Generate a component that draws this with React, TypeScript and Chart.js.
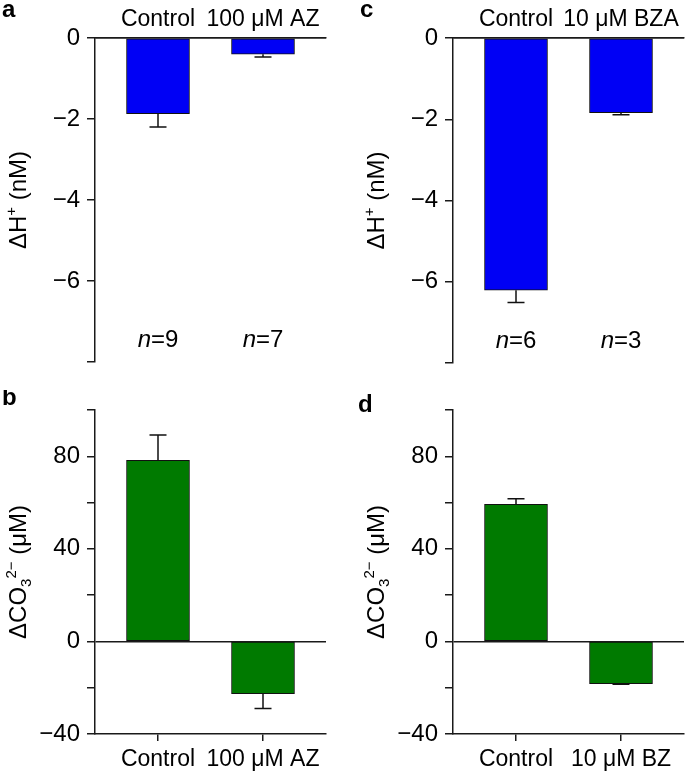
import React, { useEffect, useRef } from 'react';
import { Chart, registerables } from 'chart.js';

Chart.register(...registerables);

// ---------- data ----------
const categoriesA = ['Control', '100 μM AZ'];
const valuesA = [-1.87, -0.4];
const errorsA = [0.33, 0.07];
const nA = ['9', '7'];

const categoriesB = ['Control', '100 μM AZ'];
const valuesB = [78.2, -22.6];
const errorsB = [11.0, 6.4];

const categoriesC = ['Control', '10 μM BZA'];
const valuesC = [-6.21, -1.84];
const errorsC = [0.3, 0.05];
const nC = ['6', '3'];

const categoriesD = ['Control', '10 μM BZ'];
const valuesD = [59.2, -18.2];
const errorsD = [2.5, 0.3];

const hTickValues = [-8, -6, -4, -2, 0];
const hTickLabels = ['', '−6', '−4', '−2', '0'];
const cTickValues = [-40, -20, 0, 20, 40, 60, 80, 100];
const cTickLabels = ['−40', '', '0', '', '40', '', '80', ''];

// ---------- styles ----------
const FAMILY = '"Liberation Sans", Arial, Helvetica, sans-serif';
const AXIS = '#1a1a1a';
const BLUE = '#0000f5';
const GREEN = '#007a00';
const FS = 24;
const CAT_FS = 23;

type Part = { t: string; s: number; dy?: number };
const titleH: Part[] = [
  { t: 'ΔH', s: FS },
  { t: '+', s: 15, dy: -10 },
  { t: ' (nM)', s: FS },
];
const titleC: Part[] = [
  { t: 'ΔCO', s: FS },
  { t: '3', s: 15, dy: 5 },
  { t: '2−', s: 15, dy: -10 },
  { t: ' (μM)', s: FS },
];

type Panel = {
  letter: string;
  letterX: number;
  letterY: number;
  left: number;
  top: number;
  width: number;
  height: number;
  area: { left: number; top: number; right: number; bottom: number };
  xPos: 'top' | 'bottom';
  categories: string[];
  values: number[];
  errors: number[];
  nLabels?: string[];
  color: string;
  yMin: number;
  yMax: number;
  yTicks: number[];
  yLabels: string[];
  title: Part[];
  titleX: number;
};

const panels: Panel[] = [
  {
    letter: 'a', letterX: 2, letterY: 17,
    left: 0, top: 0, width: 342, height: 390,
    area: { left: 95, top: 38, right: 326, bottom: 362 },
    xPos: 'top', categories: categoriesA, values: valuesA, errors: errorsA, nLabels: nA,
    color: BLUE, yMin: -8, yMax: 0, yTicks: hTickValues, yLabels: hTickLabels,
    title: titleH, titleX: 17.5,
  },
  {
    letter: 'c', letterX: 18, letterY: 17,
    left: 342, top: 0, width: 343, height: 390,
    area: { left: 111, top: 38, right: 342, bottom: 363 },
    xPos: 'top', categories: categoriesC, values: valuesC, errors: errorsC, nLabels: nC,
    color: BLUE, yMin: -8, yMax: 0, yTicks: hTickValues, yLabels: hTickLabels,
    title: titleH, titleX: 33,
  },
  {
    letter: 'b', letterX: 2, letterY: 15,
    left: 0, top: 390, width: 342, height: 384,
    area: { left: 95, top: 20, right: 326, bottom: 344 },
    xPos: 'bottom', categories: categoriesB, values: valuesB, errors: errorsB,
    color: GREEN, yMin: -40, yMax: 100, yTicks: cTickValues, yLabels: cTickLabels,
    title: titleC, titleX: 17.5,
  },
  {
    letter: 'd', letterX: 16, letterY: 22,
    left: 342, top: 390, width: 343, height: 384,
    area: { left: 111, top: 20, right: 342, bottom: 344 },
    xPos: 'bottom', categories: categoriesD, values: valuesD, errors: errorsD,
    color: GREEN, yMin: -40, yMax: 100, yTicks: cTickValues, yLabels: cTickLabels,
    title: titleC, titleX: 33,
  },
];

function drawRotatedRich(ctx: CanvasRenderingContext2D, parts: Part[], cx: number, cy: number) {
  ctx.save();
  ctx.translate(cx, cy);
  ctx.rotate(-Math.PI / 2);
  ctx.fillStyle = '#000';
  ctx.textBaseline = 'alphabetic';
  ctx.textAlign = 'left';
  let total = 0;
  for (const p of parts) {
    ctx.font = `${p.s}px ${FAMILY}`;
    total += ctx.measureText(p.t).width;
  }
  let x = -total / 2;
  for (const p of parts) {
    ctx.font = `${p.s}px ${FAMILY}`;
    ctx.fillText(p.t, x, 8.5 + (p.dy || 0));
    x += ctx.measureText(p.t).width;
  }
  ctx.restore();
}

function makePlugin(p: Panel) {
  return {
    id: 'decor_' + p.letter,
    afterDatasetsDraw(chart: any) {
      const ctx: CanvasRenderingContext2D = chart.ctx;
      const xs = chart.scales.x;
      const ys = chart.scales.y;
      ctx.save();
      ctx.strokeStyle = '#111';
      ctx.lineWidth = 1.5;
      p.values.forEach((v, i) => {
        const x = xs.getPixelForValue(i);
        const y0 = ys.getPixelForValue(v);
        const y1 = ys.getPixelForValue(v + Math.sign(v) * p.errors[i]);
        ctx.beginPath();
        ctx.moveTo(x, y0);
        ctx.lineTo(x, y1);
        ctx.moveTo(x - 8.5, y1);
        ctx.lineTo(x + 8.5, y1);
        ctx.stroke();
      });
      ctx.restore();
    },
    afterDraw(chart: any) {
      const ctx: CanvasRenderingContext2D = chart.ctx;
      const xs = chart.scales.x;
      const area = chart.chartArea;
      if (p.nLabels) {
        ctx.save();
        ctx.fillStyle = '#000';
        ctx.textBaseline = 'alphabetic';
        ctx.textAlign = 'left';
        p.nLabels.forEach((n, i) => {
          const x = xs.getPixelForValue(i);
          ctx.font = `italic ${FS}px ${FAMILY}`;
          const w1 = ctx.measureText('n').width;
          ctx.font = `${FS}px ${FAMILY}`;
          const w2 = ctx.measureText('=' + n).width;
          const sx = x - (w1 + w2) / 2;
          const y = area.bottom - 15;
          ctx.font = `italic ${FS}px ${FAMILY}`;
          ctx.fillText('n', sx, y);
          ctx.font = `${FS}px ${FAMILY}`;
          ctx.fillText('=' + n, sx + w1, y);
        });
        ctx.restore();
      }
      drawRotatedRich(ctx, p.title, p.titleX, (area.top + area.bottom) / 2);
      ctx.save();
      ctx.fillStyle = '#000';
      ctx.font = `bold 24px ${FAMILY}`;
      ctx.textBaseline = 'alphabetic';
      ctx.textAlign = 'left';
      ctx.fillText(p.letter, p.letterX, p.letterY);
      ctx.restore();
    },
  };
}

function makeConfig(p: Panel): any {
  const top = p.xPos === 'top';
  return {
    type: 'bar',
    data: {
      datasets: [
        {
          data: p.values.map((v, i) => ({ x: i, y: v })),
          backgroundColor: p.color,
          borderColor: '#111',
          borderWidth: 1,
          borderSkipped: false,
          barThickness: 63,
        },
      ],
    },
    options: {
      animation: false,
      responsive: false,
      events: [],
      layout: {
        padding: {
          left: 0,
          top: top ? 0 : p.area.top,
          right: p.width - p.area.right,
          bottom: top ? p.height - p.area.bottom : 0,
        },
      },
      plugins: {
        legend: { display: false },
        tooltip: { enabled: false },
        title: { display: false },
      },
      scales: {
        x: {
          type: 'linear',
          position: p.xPos,
          min: -0.6,
          max: 1.6,
          offset: false,
          afterBuildTicks: (s: any) => {
            s.ticks = p.categories.map((_, i) => ({ value: i }));
          },
          afterFit: (s: any) => {
            s.height = top ? p.area.top : p.height - p.area.bottom;
            s.paddingLeft = 0;
            s.paddingRight = 0;
          },
          ticks: {
            autoSkip: false,
            maxRotation: 0,
            minRotation: 0,
            padding: 5,
            color: '#000',
            font: { family: FAMILY, size: CAT_FS },
            callback: (_v: any, i: number) => p.categories[i],
          },
          grid: {
            display: !top,
            drawTicks: !top,
            drawOnChartArea: false,
            offset: false,
            tickLength: 7,
            color: AXIS,
            lineWidth: 1.5,
          },
          border: { display: true, color: AXIS, width: 1.5 },
        },
        y: {
          type: 'linear',
          min: p.yMin,
          max: p.yMax,
          afterBuildTicks: (s: any) => {
            s.ticks = p.yTicks.map((v) => ({ value: v }));
          },
          afterFit: (s: any) => {
            s.width = p.area.left;
            s.paddingTop = 0;
            s.paddingBottom = 0;
          },
          ticks: {
            autoSkip: false,
            padding: 7,
            color: '#000',
            font: { family: FAMILY, size: FS },
            callback: (_v: any, i: number) => p.yLabels[i],
          },
          grid: {
            drawOnChartArea: true,
            drawTicks: true,
            tickLength: 8,
            lineWidth: 1.5,
            tickColor: AXIS,
            color: (c: any) => (c.tick && c.tick.value === 0 ? AXIS : 'rgba(0,0,0,0)'),
          },
          border: { display: true, color: AXIS, width: 1.5 },
        },
      },
    },
    plugins: [makePlugin(p)],
  };
}

function PanelChart({ p }: { p: Panel }) {
  const ref = useRef<HTMLCanvasElement | null>(null);
  useEffect(() => {
    if (!ref.current) return;
    const chart = new Chart(ref.current, makeConfig(p));
    return () => chart.destroy();
  }, [p]);
  return (
    <canvas
      ref={ref}
      width={p.width}
      height={p.height}
      style={{ position: 'absolute', left: p.left, top: p.top, width: p.width, height: p.height }}
    />
  );
}

export default function App() {
  return (
    <div style={{ position: 'absolute', left: 0, top: 0, width: 685, height: 774, background: '#fff', overflow: 'hidden' }}>
      {panels.map((p) => (
        <PanelChart key={p.letter} p={p} />
      ))}
    </div>
  );
}
